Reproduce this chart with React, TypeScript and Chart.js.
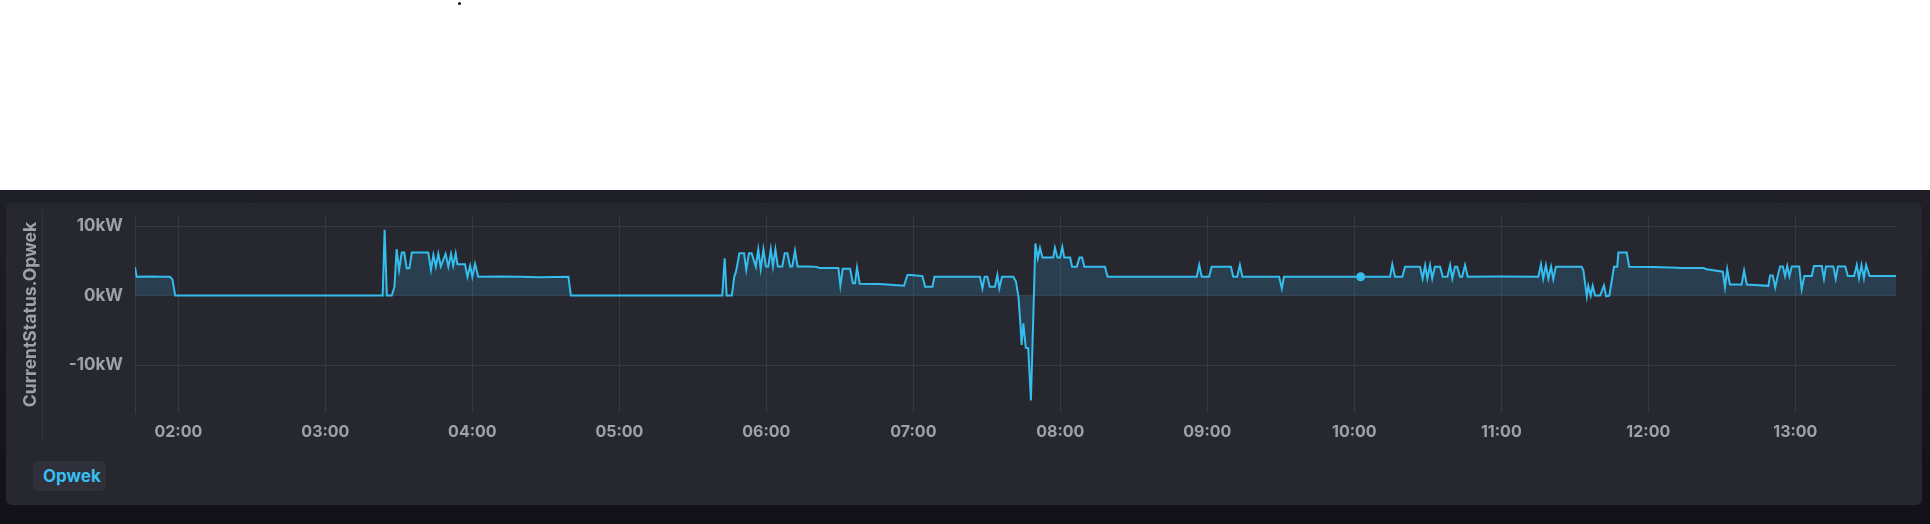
import React, { useEffect, useRef } from 'react';
import { Chart, registerables } from 'chart.js';

Chart.register(...registerables);

// Time of each sample, minutes since midnight
const times: number[] = [
  102.3, 103.0, 108.4, 112.5, 116.6, 117.6, 118.7, 203.4, 204.2, 205.1,
  207.1, 208.2, 209.1, 210.1, 211.2, 212.2, 213.2, 214.3, 215.3, 222.0,
  223.1, 224.1, 225.1, 226.1, 227.1, 229.1, 230.2, 231.3, 232.2, 233.2,
  233.9, 237.0, 238.0, 239.1, 240.0, 241.1, 242.4, 251.3, 259.5, 267.6,
  279.2, 280.2, 342.0, 343.0, 343.8, 345.9, 346.9, 347.6, 349.0, 350.9,
  351.8, 352.9, 354.0, 355.7, 356.7, 357.7, 358.8, 359.8, 360.8, 361.8,
  362.7, 363.7, 364.7, 366.5, 367.5, 368.6, 369.7, 370.6, 371.7, 372.7,
  376.5, 380.6, 381.6, 389.4, 390.2, 391.2, 394.2, 395.3, 396.2, 397.0,
  398.1, 406.4, 416.2, 417.6, 418.9, 423.7, 424.8, 427.8, 428.6, 447.2,
  448.2, 449.1, 450.2, 451.2, 453.3, 454.3, 455.1, 456.2, 460.8, 461.9,
  462.9, 463.6, 464.2, 464.9, 465.9, 466.9, 468.0, 469.8, 470.8, 471.7,
  472.7, 477.1, 477.8, 478.8, 479.9, 480.8, 481.6, 484.0, 484.8, 486.7,
  487.8, 488.9, 489.8, 498.2, 499.3, 515.0, 535.7, 536.7, 537.7, 540.7,
  541.8, 549.6, 550.6, 552.2, 553.3, 554.3, 569.3, 570.4, 571.3, 585.0,
  602.6, 614.6, 615.5, 616.6, 619.6, 620.7, 626.8, 627.9, 628.9, 629.8,
  630.9, 631.8, 632.9, 635.0, 636.1, 638.0, 639.1, 640.0, 641.1, 642.0,
  643.1, 644.0, 645.2, 646.3, 658.1, 675.1, 676.2, 677.1, 678.2, 679.2,
  680.3, 681.2, 682.3, 692.8, 693.5, 694.9, 695.5, 696.5, 697.3, 698.3,
  700.3, 701.9, 702.8, 704.1, 705.1, 706.0, 707.3, 707.8, 711.2, 712.2,
  722.0, 731.6, 733.0, 742.5, 743.8, 750.4, 751.3, 752.2, 753.3, 758.1,
  759.1, 760.2, 769.0, 769.7, 770.8, 771.8, 772.8, 773.8, 774.9, 775.8,
  776.7, 777.6, 778.6, 781.6, 782.6, 783.7, 786.7, 787.6, 790.8, 791.7,
  792.5, 795.5, 796.5, 797.4, 800.4, 801.4, 804.0, 805.1, 806.0, 807.0,
  808.0, 808.9, 810.3, 821.1,
];

// Opwek in kW
const values: number[] = [
  4.1, 2.7, 2.75, 2.7, 2.7, 2.3, 0, 0, 9.45, 0,
  0, 1.27, 6.67, 3.68, 6.18, 6.18, 3.92, 3.92, 6.18, 6.18,
  3.68, 5.85, 4.16, 6.0, 4.2, 6.0, 4.16, 6.0, 4.3, 6.06,
  4.5, 4.5, 2.7, 4.3, 2.7, 4.57, 2.7, 2.75, 2.7, 2.65,
  2.7, 0, 0, 5.37, 0, 0, 2.7, 3.4, 6.08, 6.08,
  3.68, 6.08, 6.08, 4.16, 6.66, 3.8, 6.66, 4.2, 4.2, 6.66,
  4.2, 6.66, 4.2, 4.2, 6.08, 6.08, 4.2, 4.2, 6.47, 4.2,
  4.2, 4.13, 3.97, 3.97, 1.42, 3.85, 3.85, 1.76, 1.76, 4.04,
  1.7, 1.68, 1.42, 2.96, 2.96, 2.8, 1.27, 1.27, 2.7, 2.7,
  1.03, 2.7, 2.7, 1.27, 1.27, 2.96, 1.03, 2.7, 2.7, 2.0,
  -0.2, -3.5, -7.1, -4.0, -7.5, -7.6, -15.1, 7.5, 5.37, 6.87,
  5.46, 5.46, 6.87, 5.46, 5.46, 7.0, 5.46, 5.46, 4.16, 4.16,
  5.46, 5.46, 4.16, 4.16, 2.7, 2.72, 2.7, 4.4, 2.7, 2.7,
  4.16, 4.16, 2.7, 2.7, 4.4, 2.7, 2.7, 1.03, 2.7, 2.72,
  2.7, 2.7, 4.5, 2.7, 2.7, 4.16, 4.16, 2.45, 4.35, 2.45,
  4.35, 2.45, 4.16, 4.16, 2.7, 2.7, 4.4, 2.45, 4.16, 4.16,
  2.7, 2.7, 4.4, 2.7, 2.75, 2.7, 4.5, 2.45, 4.35, 2.45,
  4.16, 2.35, 4.16, 4.16, 3.6, -0.1, 1.4, 0, 1.4, 0,
  0, 1.44, -0.1, 0, 2.2, 4.16, 4.16, 6.18, 6.18, 4.16,
  4.1, 4.0, 3.97, 3.95, 3.78, 3.44, 1.18, 3.78, 1.6, 1.6,
  3.6, 1.6, 1.4, 2.9, 2.9, 1.18, 2.8, 4.2, 4.2, 2.8,
  4.26, 2.8, 4.2, 4.2, 0.9, 2.8, 2.8, 4.26, 4.26, 2.4,
  4.2, 4.2, 2.4, 4.2, 4.2, 2.8, 2.8, 4.4, 2.5, 4.4,
  2.5, 4.4, 2.8, 2.8,
];

const tickMinutes: number[] = [120, 180, 240, 300, 360, 420, 480, 540, 600, 660, 720, 780];
const tickLabels: string[] = ['02:00', '03:00', '04:00', '05:00', '06:00', '07:00', '08:00', '09:00', '10:00', '11:00', '12:00', '13:00'];
const yTicks: number[] = [-10, 0, 10];
const seriesName = 'Opwek';
const axisTitle = 'CurrentStatus.Opwek';
const hoverTime = 602.6;

const X_MIN = 102.3;
const X_MAX = 821.1;
const Y_MIN = -16.9;
const Y_MAX = 11.45;

const LINE = '#35bdee';
const FILL = 'rgba(53,189,238,0.16)';
const GRID = '#393943';
const TEXT = '#a0a0ab';
const FONT = 'Inter, "Noto Sans", sans-serif';

function ChartPanel() {
  const ref = useRef<HTMLCanvasElement | null>(null);
  useEffect(() => {
    if (!ref.current) return;
    const hoverIndex = times.indexOf(hoverTime);
    const chart = new Chart(ref.current, {
      type: 'line',
      data: {
        datasets: [
          {
            label: seriesName,
            data: times.map((t, i) => ({ x: t, y: values[i] })),
            borderColor: LINE,
            borderWidth: 2,
            backgroundColor: FILL,
            fill: 'origin',
            tension: 0,
            pointRadius: (ctx: any) => (ctx.dataIndex === hoverIndex ? 4.5 : 0),
            pointBackgroundColor: LINE,
            pointBorderWidth: 0,
          },
        ],
      },
      options: {
        animation: false,
        responsive: false,
        maintainAspectRatio: false,
        events: [],
        layout: { padding: { top: 13, right: 26, left: 0, bottom: 0 } },
        plugins: { legend: { display: false }, tooltip: { enabled: false } },
        scales: {
          x: {
            type: 'linear',
            min: X_MIN,
            max: X_MAX,
            afterBuildTicks: (s: any) => {
              s.ticks = tickMinutes.map((v) => ({ value: v }));
            },
            afterFit: (s: any) => {
              s.height = 40;
              s.paddingLeft = 0;
              s.paddingRight = 0;
            },
            ticks: {
              callback: (_v: any, i: number) => tickLabels[i],
              color: TEXT,
              font: { family: FONT, size: 16, weight: '700' },
              padding: 10,
              maxRotation: 0,
              autoSkip: false,
            },
            grid: { color: GRID, drawTicks: false, lineWidth: 1 },
            border: { display: false },
          },
          y: {
            type: 'linear',
            min: Y_MIN,
            max: Y_MAX,
            afterBuildTicks: (s: any) => {
              s.ticks = yTicks.map((v) => ({ value: v }));
            },
            afterFit: (s: any) => {
              s.width = 129;
              s.paddingTop = 0;
              s.paddingBottom = 0;
            },
            ticks: {
              callback: (v: any) => `${v}kW`,
              color: TEXT,
              font: { family: FONT, size: 17, weight: '700' },
              padding: 12,
            },
            grid: { color: GRID, drawTicks: false, lineWidth: 1 },
            border: { display: true, color: GRID },
            title: {
              display: true,
              text: axisTitle,
              color: TEXT,
              font: { family: FONT, size: 17.5, weight: '700' },
              padding: { top: 14, bottom: 0 },
            },
          },
        },
      },
    } as any);
    return () => chart.destroy();
  }, []);
  return <canvas ref={ref} width={1916} height={250} style={{ display: 'block' }} />;
}

export default function App() {
  return (
    <div style={{ position: 'absolute', left: 0, top: 0, width: 1930, height: 524, background: '#ffffff', overflow: 'hidden', fontFamily: FONT }}>
      <div style={{ position: 'absolute', left: 458, top: 2, width: 3, height: 3, borderRadius: 2, background: '#111' }} />
      <div
        style={{
          position: 'absolute',
          left: 0,
          top: 190,
          width: 1930,
          height: 334,
          background: 'linear-gradient(#1f1f27, #121118)',
        }}
      />
      <div
        style={{
          position: 'absolute',
          left: 6,
          top: 203,
          width: 1916,
          height: 302,
          background: '#272730',
          borderRadius: 6,
          overflow: 'hidden',
        }}
      >
        <div style={{ position: 'absolute', left: 0, top: 0 }}>
          <ChartPanel />
        </div>
        <div style={{ position: 'absolute', left: 36, top: 8, width: 1, height: 229, background: '#34343e' }} />
        <div
          style={{
            position: 'absolute',
            left: 27,
            top: 258,
            width: 73,
            height: 30,
            borderRadius: 4,
            background: '#30303a',
            color: '#36bff0',
            fontWeight: 700,
            fontSize: 17,
            lineHeight: '30px',
            paddingLeft: 10,
            boxSizing: 'border-box',
          }}
        >
          {seriesName}
        </div>
      </div>
    </div>
  );
}
